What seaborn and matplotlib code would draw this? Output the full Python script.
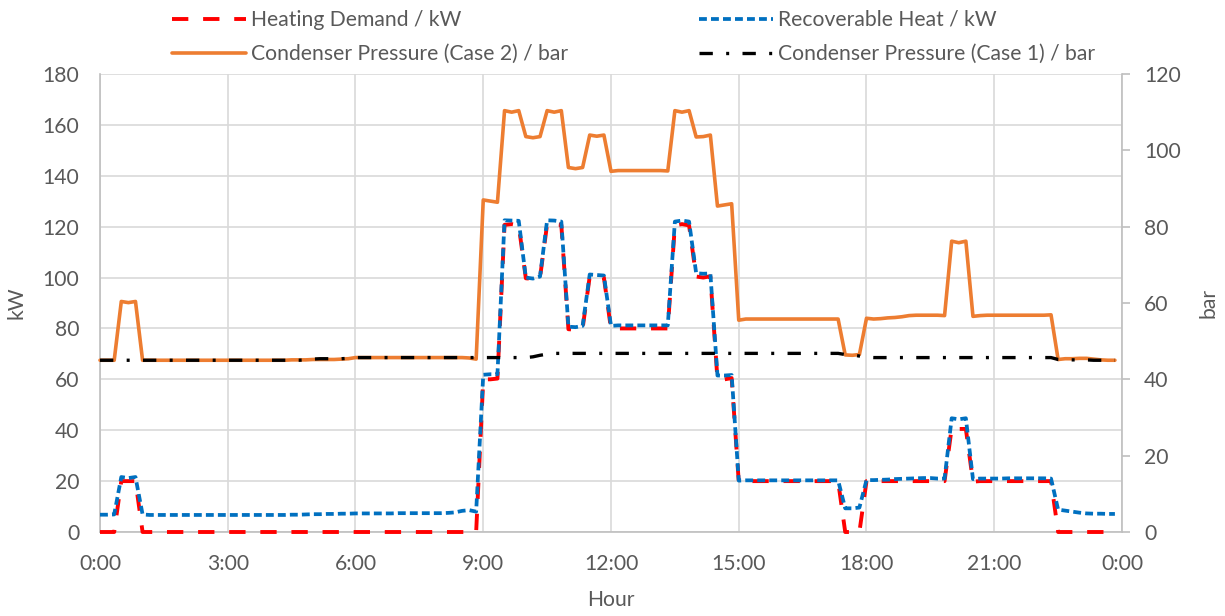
import numpy as np
import pandas as pd
import matplotlib
matplotlib.use("Agg")
import matplotlib.pyplot as plt
from matplotlib.lines import Line2D
import seaborn as sns

# 10-minute samples over one day (0:00 ... 23:50)
hours = np.arange(144) / 6.0

# Heating demand, kW (each row = two hours)
heating_demand = [
    0.0, 0.0, 0.0, 20.0, 20.0, 20.0, 0.0, 0.0, 0.0, 0.0, 0.0, 0.0,
    0.0, 0.0, 0.0, 0.0, 0.0, 0.0, 0.0, 0.0, 0.0, 0.0, 0.0, 0.0,
    0.0, 0.0, 0.0, 0.0, 0.0, 0.0, 0.0, 0.0, 0.0, 0.0, 0.0, 0.0,
    0.0, 0.0, 0.0, 0.0, 0.0, 0.0, 0.0, 0.0, 0.0, 0.0, 0.0, 0.0,
    0.0, 0.0, 0.0, 0.0, 0.0, 0.0, 60.0, 60.0, 60.3, 120.7, 121.0, 120.5,
    99.7, 99.5, 100.0, 121.0, 121.0, 120.7, 79.7, 79.5, 80.0, 100.4, 100.4, 100.0,
    79.8, 80.0, 80.0, 80.0, 80.0, 80.0, 80.0, 80.0, 80.0, 120.5, 121.0, 120.5,
    100.4, 100.0, 100.5, 60.0, 60.0, 60.5, 19.8, 20.0, 20.0, 20.0, 20.0, 20.0,
    20.0, 20.0, 20.0, 20.0, 20.0, 20.0, 20.0, 20.0, 20.0, 0.0, 0.0, 0.0,
    20.0, 20.0, 20.0, 20.0, 20.0, 20.0, 20.0, 20.0, 20.0, 20.0, 20.0, 20.0,
    40.8, 40.5, 40.5, 19.8, 20.0, 20.0, 20.0, 20.0, 20.0, 20.0, 20.0, 20.0,
    20.0, 20.0, 20.0, 0.0, 0.0, 0.0, 0.0, 0.0, 0.0, 0.0, 0.0, 0.0,
]

# Recoverable heat, kW
recoverable_heat = [
    6.8, 6.8, 6.9, 21.6, 21.2, 21.6, 6.9, 6.7, 6.7, 6.7, 6.7, 6.7,
    6.7, 6.7, 6.7, 6.7, 6.7, 6.7, 6.7, 6.7, 6.7, 6.7, 6.7, 6.7,
    6.7, 6.7, 6.7, 6.8, 6.8, 6.9, 7.0, 7.0, 7.1, 7.1, 7.2, 7.2,
    7.3, 7.3, 7.3, 7.3, 7.3, 7.3, 7.4, 7.4, 7.4, 7.4, 7.4, 7.4,
    7.4, 7.5, 7.7, 8.3, 8.6, 8.0, 61.8, 62.0, 62.0, 122.5, 122.4, 122.3,
    100.0, 99.6, 100.4, 122.5, 122.4, 122.0, 80.7, 80.5, 81.0, 101.2, 101.0, 100.8,
    81.0, 81.2, 81.2, 81.2, 81.2, 81.2, 81.2, 81.2, 81.2, 122.0, 122.4, 122.0,
    101.7, 101.5, 101.6, 61.5, 61.5, 61.7, 20.2, 20.3, 20.3, 20.3, 20.3, 20.3,
    20.3, 20.3, 20.3, 20.3, 20.3, 20.3, 20.3, 20.3, 20.3, 9.3, 9.3, 9.6,
    20.4, 20.4, 20.5, 20.6, 20.8, 20.9, 21.0, 21.1, 21.2, 21.2, 21.0, 21.0,
    44.7, 44.3, 44.7, 20.8, 21.0, 21.0, 21.0, 21.0, 21.1, 21.1, 21.1, 21.1,
    21.1, 21.1, 21.0, 8.8, 8.4, 8.0, 7.6, 7.3, 7.2, 7.2, 7.1, 7.1,
]

# Condenser pressure, case 2, bar
pressure_case2 = [
    45.0, 45.0, 45.0, 60.4, 60.1, 60.4, 45.0, 45.0, 45.0, 45.0, 45.0, 45.0,
    45.0, 45.0, 45.0, 45.0, 45.0, 45.0, 45.0, 45.0, 45.0, 45.0, 45.0, 45.0,
    45.0, 45.0, 45.0, 45.1, 45.1, 45.1, 45.2, 45.2, 45.2, 45.2, 45.3, 45.4,
    45.7, 45.7, 45.7, 45.7, 45.7, 45.7, 45.7, 45.7, 45.7, 45.7, 45.7, 45.7,
    45.7, 45.7, 45.7, 45.7, 45.6, 45.3, 87.0, 86.7, 86.4, 110.4, 110.0, 110.4,
    103.6, 103.3, 103.6, 110.4, 110.0, 110.4, 95.5, 95.2, 95.5, 104.0, 103.7, 104.0,
    94.5, 94.7, 94.7, 94.7, 94.7, 94.7, 94.7, 94.7, 94.6, 110.4, 110.0, 110.4,
    103.5, 103.6, 104.0, 85.4, 85.7, 86.0, 55.5, 55.8, 55.8, 55.8, 55.8, 55.8,
    55.8, 55.8, 55.8, 55.8, 55.8, 55.8, 55.8, 55.8, 55.8, 46.4, 46.3, 46.5,
    56.0, 55.8, 55.9, 56.1, 56.2, 56.4, 56.7, 56.8, 56.8, 56.8, 56.8, 56.7,
    76.2, 75.8, 76.2, 56.5, 56.7, 56.8, 56.8, 56.8, 56.8, 56.8, 56.8, 56.8,
    56.8, 56.8, 56.9, 45.2, 45.4, 45.4, 45.5, 45.5, 45.3, 45.1, 45.0, 45.0,
]

# Condenser pressure, case 1, bar
pressure_case1 = [
    45.0, 45.0, 45.0, 45.0, 45.0, 45.0, 45.0, 45.0, 45.0, 45.0, 45.0, 45.0,
    45.0, 45.0, 45.0, 45.0, 45.0, 45.0, 45.0, 45.0, 45.0, 45.0, 45.0, 45.0,
    45.0, 45.0, 45.0, 45.0, 45.0, 45.1, 45.3, 45.4, 45.4, 45.4, 45.4, 45.5,
    45.7, 45.7, 45.7, 45.7, 45.7, 45.7, 45.7, 45.7, 45.7, 45.7, 45.7, 45.7,
    45.7, 45.7, 45.7, 45.7, 45.7, 45.7, 45.7, 45.7, 45.7, 45.7, 45.7, 45.7,
    45.7, 45.9, 46.3, 46.6, 46.8, 46.8, 46.8, 46.8, 46.8, 46.8, 46.8, 46.8,
    46.8, 46.8, 46.8, 46.8, 46.8, 46.8, 46.8, 46.8, 46.8, 46.8, 46.8, 46.8,
    46.8, 46.8, 46.8, 46.8, 46.8, 46.8, 46.8, 46.8, 46.8, 46.8, 46.8, 46.8,
    46.8, 46.8, 46.8, 46.8, 46.8, 46.8, 46.8, 46.8, 46.8, 46.5, 46.4, 46.1,
    45.8, 45.7, 45.7, 45.7, 45.7, 45.7, 45.7, 45.7, 45.7, 45.7, 45.7, 45.7,
    45.7, 45.7, 45.7, 45.7, 45.7, 45.7, 45.7, 45.7, 45.7, 45.7, 45.7, 45.7,
    45.7, 45.7, 45.7, 45.2, 45.1, 45.1, 45.1, 45.1, 45.0, 45.0, 45.0, 45.0,
]

x_ticks = [0, 3, 6, 9, 12, 15, 18, 21, 24]
x_tick_labels = ["0:00", "3:00", "6:00", "9:00", "12:00", "15:00", "18:00", "21:00", "0:00"]
kw_ticks = [0, 20, 40, 60, 80, 100, 120, 140, 160, 180]
bar_ticks = [0, 20, 40, 60, 80, 100, 120]

labels = {
    "heat": "Heating Demand / kW",
    "recov": "Recoverable Heat / kW",
    "case2": "Condenser Pressure (Case 2) / bar",
    "case1": "Condenser Pressure (Case 1) / bar",
}

df = pd.DataFrame({
    "hour": hours,
    "heat": heating_demand,
    "recov": recoverable_heat,
    "case2": pressure_case2,
    "case1": pressure_case1,
})

sns.set_theme(style="white")
plt.rcParams["font.family"] = ["Lato", "DejaVu Sans"]

TEXT = "#595959"
GRID = "#D9D9D9"
AXIS = "#BFBFBF"
FS = 15.2

W, H = 1225, 616
fig = plt.figure(figsize=(W / 100, H / 100), dpi=100)
ax = fig.add_axes([100 / W, (H - 532) / H, 1022 / W, 458 / H])
ax2 = ax.twinx()

styles = {
    "heat": dict(color="#FF0000", lw=2.8, dashes=(4.2, 3.8)),
    "recov": dict(color="#0070C0", lw=2.7, dashes=(2.1, 1.1)),
    "case2": dict(color="#ED7D31", lw=2.6, dashes=None),
    "case1": dict(color="#000000", lw=2.4, dashes=(4.0, 4.0, 0.9, 4.0)),
}

handles = {}
for key, axis in [("heat", ax), ("recov", ax), ("case2", ax2), ("case1", ax2)]:
    st = styles[key]
    before = len(axis.lines)
    sns.lineplot(data=df, x="hour", y=key, ax=axis, color=st["color"],
                 linewidth=st["lw"], legend=False)
    line = axis.lines[before]
    line.set_clip_on(False)
    line.set_zorder(3)
    line.set_solid_joinstyle("round")
    if st["dashes"] is not None:
        line.set_dashes(st["dashes"])
        line.set_dash_capstyle("butt")
    handles[key] = Line2D([], [], color=st["color"], lw=st["lw"],
                          dashes=st["dashes"] if st["dashes"] else (None, None))

# Axes ranges and ticks
ax.set_xlim(0, 24)
ax.set_ylim(0, 180)
ax2.set_ylim(0, 120)
ax.set_xticks(x_ticks)
ax.set_xticklabels(x_tick_labels)
ax.set_yticks(kw_ticks)
ax2.set_yticks(bar_ticks)

ax.grid(True, color=GRID, lw=1.2)
ax2.grid(False)
ax.set_axisbelow(True)

ax.tick_params(axis="y", length=0, pad=15, labelsize=FS, labelcolor=TEXT)
ax.tick_params(axis="x", length=0, pad=16, labelsize=FS, labelcolor=TEXT)
ax2.tick_params(axis="y", length=6, width=1.2, color=AXIS, pad=10,
                labelsize=FS, labelcolor=TEXT, right=True)

for name, sp in ax.spines.items():
    sp.set_visible(name in ("left", "bottom"))
    sp.set_color(AXIS)
    sp.set_linewidth(1.2)
for name, sp in ax2.spines.items():
    sp.set_visible(name == "right")
    sp.set_color(AXIS)
    sp.set_linewidth(1.2)

ax.set_xlabel("Hour", fontsize=FS, color=TEXT)
ax.xaxis.set_label_coords(0.5, (532 - 600) / 458)
ax.xaxis.label.set_va("center")
ax.set_ylabel("kW", fontsize=FS, color=TEXT)
ax.yaxis.set_label_coords((17 - 100) / 1022, 0.5)
ax.yaxis.label.set_va("center")
ax2.set_ylabel("bar", fontsize=FS, color=TEXT, rotation=90)
ax2.yaxis.set_label_coords((1208 - 100) / 1022, 0.5)
ax2.yaxis.label.set_va("center")

# Two-column legend above the plot
leg_kw = dict(frameon=False, fontsize=FS, labelcolor=TEXT, handlelength=3.5,
              handletextpad=0.25, labelspacing=0.68, borderpad=0,
              borderaxespad=0, loc="upper left")
fig.legend([handles["heat"], handles["case2"]],
           [labels["heat"], labels["case2"]],
           bbox_to_anchor=(172 / W, 1 - 10 / H), **leg_kw)
fig.legend([handles["recov"], handles["case1"]],
           [labels["recov"], labels["case1"]],
           bbox_to_anchor=(699 / W, 1 - 10 / H), **leg_kw)

fig.savefig("out.png", dpi=100)
